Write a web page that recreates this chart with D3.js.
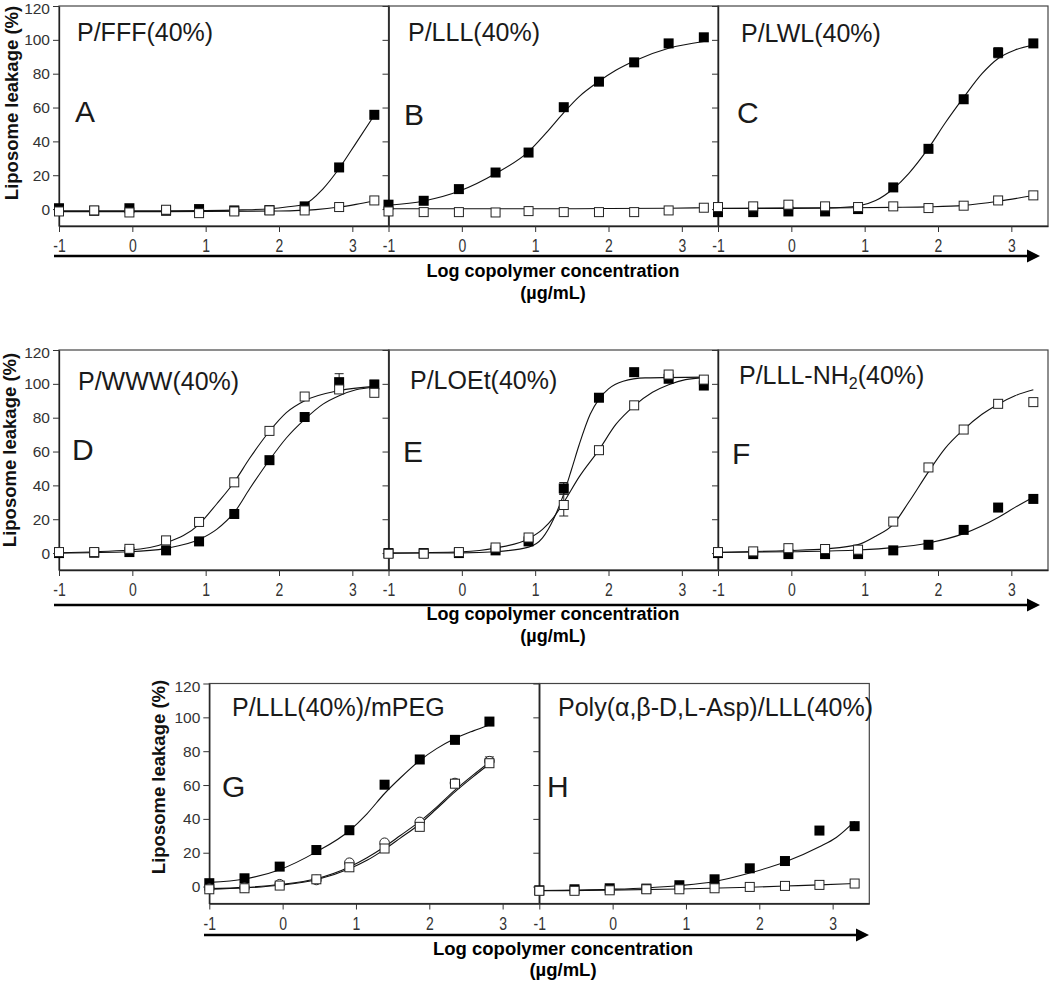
<!DOCTYPE html>
<html><head><meta charset="utf-8">
<script src="https://cdn.jsdelivr.net/npm/d3@7"></script>
<style>body{margin:0;background:#fff;} svg{display:block;font-family:"Liberation Sans",Arial,Helvetica,sans-serif;}</style>
</head><body><svg id="c" width="1050" height="981"></svg>
<script>
// ---------- data (log µg/mL vs % leakage) ----------
const xs = [-1, -0.52, -0.04, 0.46, 0.91, 1.39, 1.87, 2.35, 2.82, 3.3];
const xTicks = [-1, 0, 1, 2, 3];
const yTicks = [0, 20, 40, 60, 80, 100, 120];

const aFilled = [0.5, -1, 0.5, -1, 0, -0.8, -0.6, 1.6, 24.6, 55.7];
const aOpen   = [-1.4, -0.8, -2, -0.4, -2.4, -1.4, -0.8, -0.8, 1.2, 5.1];
const aFilledFit = [[-1,-1],[0,-1],[1,-0.9],[1.5,-0.5],[1.87,0.2],[2.1,1.2],[2.35,3],[2.6,12],[2.82,24],[3.05,39],[3.3,55.5]];
const aOpenFit   = [[-1,-1.5],[0,-1.5],[1,-1.4],[2,-1.1],[2.5,-0.3],[2.82,1.2],[3.05,2.8],[3.3,4.8]];

const bFilled = [2.6, 4.9, 11.8, 21.6, 33.4, 60.2, 75.3, 86.7, 97.9, 101.5];
const bOpen   = [-1.4, -1.8, -1.8, -2, -1.2, -1.8, -1.8, -1.8, -0.8, 0.8];
const bFilledFit = [[-1,2.3],[-0.52,4.8],[-0.04,10.5],[0.46,21],[0.91,34],[1.15,45],[1.39,57],[1.6,66.5],[1.87,75.5],[2.1,82],[2.35,87.5],[2.82,95],[3.3,99]];
const bOpenFit   = [[-1,0.2],[1,0.2],[2,0.3],[2.82,0.5],[3.3,0.8]];

const cFilled = [-1.8, -1.8, -1.4, -1.4, 0, 12.8, 35.6, 64.9, 92.4, 97.9];
const cOpen   = [1.2, 1.6, 2.6, 1.6, 1.2, 1.6, 0.6, 2, 5.1, 8.1];
const cFilledFit = [[-1,0.3],[0,0.4],[0.5,0.6],[0.91,1.8],[1.15,5],[1.39,12],[1.6,21],[1.87,36],[2.1,51],[2.35,66],[2.6,80],[2.82,89],[3.05,94],[3.3,97]];
const cOpenFit   = [[-1,0.5],[0.5,0.7],[1.39,1],[1.87,1.3],[2.35,2.2],[2.82,4.6],[3.3,8]];

const dFilled = [0, 0.2, 0.6, 1.6, 6.9, 23.1, 54.9, 80.4, 101, 99.6];
const dOpen   = [0.6, 0.6, 2.5, 7.5, 18.4, 41.8, 72.2, 92.5, 96.7, 94.7];
const dFilledFit = [[-1,0],[-0.04,0.8],[0.46,2.8],[0.91,8],[1.15,14],[1.39,24],[1.6,38],[1.87,55],[2.1,68],[2.35,79],[2.6,88],[2.82,93],[3.05,96.5],[3.3,98]];
const dOpenFit   = [[-1,0.2],[-0.04,1.8],[0.46,6],[0.91,17],[1.15,29],[1.39,42],[1.6,56],[1.87,72],[2.1,83],[2.35,90],[2.82,96],[3.3,98.5]];

const eFilled = [0, 0, 0, 1.6, 6.9, 38.2, 91.8, 106.9, 103, 99];
const eOpen   = [-0.4, -0.4, 0.6, 3.3, 9.2, 28.4, 60.8, 87.3, 105.5, 102.5];
const eFilledFit = [[-1,0],[0,0.1],[0.46,0.8],[0.91,3.5],[1.1,9],[1.25,20],[1.39,35],[1.5,50],[1.6,64],[1.75,82],[1.87,91],[2.0,97],[2.2,101.5],[2.5,103.5],[3.3,104]];
const eOpenFit   = [[-1,0],[0,0.8],[0.46,3],[0.91,8.5],[1.1,14],[1.25,21],[1.39,30],[1.6,45],[1.87,61],[2.1,76],[2.35,87],[2.6,95],[2.82,99.5],[3.05,102.5],[3.3,103.5]];

const fFilled = [0, -0.6, -0.6, -0.6, -0.6, 1.6, 4.9, 13.7, 26.9, 32];
const fOpen   = [0.6, 1, 2.9, 2.4, 2, 18.6, 50.6, 73, 88.2, 89.2];
const fFilledFit = [[-1,0.3],[0,0.8],[0.91,1.8],[1.39,3.2],[1.87,6],[2.35,11.5],[2.82,21],[3.05,27],[3.3,33]];
const fOpenFit   = [[-1,0.5],[-0.04,1.5],[0.46,2.5],[0.91,5],[1.15,10],[1.39,17],[1.6,30],[1.87,48],[2.1,62],[2.35,73],[2.6,82],[2.82,88],[3.05,93],[3.3,96.5]];

const gFilled = [2, 4.9, 11.8, 21.6, 33.3, 60.2, 75.1, 86.7, 97.5];
const gOpen   = [-1.6, -1, 0.6, 4.3, 11.4, 22.5, 35.3, 60.8, 72.9];
const gCircle = [-1.2, -0.6, 1.4, 3.9, 14.1, 25.9, 38.2, 61.2, 74.1];
const gFilledFit = [[-1,2.5],[-0.52,4.5],[-0.04,10],[0.46,20.5],[0.91,33],[1.15,43],[1.39,55],[1.6,64],[1.87,74.5],[2.1,81.5],[2.35,87.5],[2.6,92],[2.82,95.5]];
const gOpenFit   = [[-1,-1.5],[-0.52,-0.8],[-0.04,0.8],[0.46,4],[0.91,10.5],[1.15,15.5],[1.39,22],[1.6,28.5],[1.87,37],[2.1,46],[2.35,56],[2.6,65],[2.82,72.5]];
const gCircleFit = [[-1,-1.2],[-0.52,-0.5],[-0.04,1.2],[0.46,4.6],[0.91,11.5],[1.15,17],[1.39,23.5],[1.6,30],[1.87,38.5],[2.1,47],[2.35,57],[2.6,66],[2.82,73.5]];

const hFilled = [-2.2, -1.6, -1, -1.2, 0.8, 4.3, 10.8, 15.1, 33.1, 35.7];
const hOpen   = [-2.5, -2.5, -2.2, -1.6, -1.6, -1, -0.2, 0.4, 1, 1.8];
const hFilledFit = [[-1,-2.3],[-0.04,-1.6],[0.46,-0.8],[0.91,0.6],[1.39,3],[1.87,8],[2.35,14.5],[2.82,23.5],[3.05,29],[3.3,38.5]];
const hOpenFit   = [[-1,-2.5],[-0.04,-2.1],[0.91,-1.4],[1.87,-0.4],[2.35,0.3],[2.82,1.0],[3.3,1.8]];

// error bars: panel, series, x, y, error
const errPanel = ['C','D','D','E','E','G'];
const errSeries = ['filled','filled','filled','filled','open','circle'];
const errX = [2.82, 2.82, 3.3, 1.39, 1.39, 2.82];
const errY = [92.4, 101, 99.6, 38.2, 28.4, 74.1];
const errE = [3, 5, 2.5, 3.5, 6.5, 2.5];

// ---------- layout ----------
const W = 330, H = 220;
const panels = [
  {id:'A', title:'P/FFF(40%)', left:59, top:6, filled:aFilled, open:aOpen, ff:aFilledFit, of:aOpenFit, ylab:true, tx:77, ty:35, lx:75, ly:116},
  {id:'B', title:'P/LLL(40%)', left:388.5, top:6, filled:bFilled, open:bOpen, ff:bFilledFit, of:bOpenFit, tx:408, ty:35, lx:404, ly:119},
  {id:'C', title:'P/LWL(40%)', left:718, top:6, filled:cFilled, open:cOpen, ff:cFilledFit, of:cOpenFit, tx:741, ty:36, lx:737, ly:117},
  {id:'D', title:'P/WWW(40%)', left:59, top:350, filled:dFilled, open:dOpen, ff:dFilledFit, of:dOpenFit, ylab:true, tx:78, ty:40, lx:72, ly:110},
  {id:'E', title:'P/LOEt(40%)', left:388.5, top:350, filled:eFilled, open:eOpen, ff:eFilledFit, of:eOpenFit, tx:410, ty:39, lx:403, ly:112},
  {id:'F', title:'P/LLL-NH', sub:'2', rest:'(40%)', left:718, top:350, filled:fFilled, open:fOpen, ff:fFilledFit, of:fOpenFit, tx:739, ty:34, lx:732, ly:114},
  {id:'G', title:'P/LLL(40%)/mPEG', left:209.3, top:683.5, filled:gFilled, open:gOpen, circle:gCircle, ff:gFilledFit, of:gOpenFit, cf:gCircleFit, ylab:true, tx:232, ty:32, lx:222, ly:113},
  {id:'H', title:'Poly(α,β-D,L-Asp)/LLL(40%)', left:539.3, top:683.5, filled:hFilled, open:hOpen, ff:hFilledFit, of:hOpenFit, tx:558, ty:32, lx:547, ly:113}
];
const rows = [
  {ytx:18, yty:103, ax1:54, ax2:1040, ay:256, lcx:553, lb:277, sb:299, fs:18},
  {ytx:16, yty:450, ax1:54, ax2:1040, ay:605, lcx:553, lb:620, sb:642, fs:18},
  {ytx:165, yty:777, ax1:204, ax2:869, ay:935, lcx:563, lb:955, sb:976, fs:18.5}
];

const svg = d3.select('#c');
const line = d3.line().curve(d3.curveMonotoneX);

panels.forEach(p => {
  const x = d3.scaleLinear().domain([-1, 3.5]).range([p.left, p.left + W]);
  const y = d3.scaleLinear().domain([-10, 120]).range([p.top + H, p.top]);
  const g = svg.append('g');

  // box
  g.append('rect').attr('x', p.left).attr('y', p.top).attr('width', W).attr('height', H)
    .attr('fill', 'none').attr('stroke', '#444').attr('stroke-width', 1.2);

  // axes
  const ya = d3.axisLeft(y).tickValues(yTicks).tickSize(6).tickPadding(3).tickSizeOuter(0);
  if (!p.ylab) ya.tickFormat('');
  const yg = g.append('g').attr('transform', `translate(${p.left},0)`).call(ya);
  yg.select('.domain').attr('stroke', '#222').attr('stroke-width', 1.3);
  yg.selectAll('.tick line').attr('stroke', '#333');
  yg.selectAll('text').attr('font-size', 15.5).attr('fill', '#333').attr('font-family', '"Liberation Sans",Arial,sans-serif')
    .attr('dy', (d) => d === 120 ? '0.5em' : '0.32em');

  const xa = d3.axisBottom(x).tickValues(xTicks).tickSize(6).tickPadding(8).tickSizeOuter(0).tickFormat(d3.format('d'));
  const xg = g.append('g').attr('transform', `translate(0,${p.top + H})`).call(xa);
  xg.select('.domain').attr('stroke', '#222').attr('stroke-width', 1.3);
  xg.selectAll('.tick line').attr('stroke', '#333');
  xg.selectAll('text').attr('font-size', 17.5).attr('fill', '#333').attr('transform', 'scale(0.8,1)')
    .attr('font-family', '"Liberation Sans",Arial,sans-serif')
    .text(d => d < 0 ? '-' + Math.abs(d) : d);

  // fitted curves
  const drawFit = pts => g.append('path').attr('d', line(pts.map(d => [x(d[0]), y(d[1])])))
    .attr('fill', 'none').attr('stroke', '#111').attr('stroke-width', 1.1);
  drawFit(p.ff); drawFit(p.of); if (p.cf) drawFit(p.cf);

  // error bars
  errPanel.forEach((pid, i) => {
    if (pid !== p.id) return;
    const cx = x(errX[i]), y1 = y(errY[i] + errE[i]), y2 = y(errY[i] - errE[i]);
    g.append('line').attr('x1', cx).attr('x2', cx).attr('y1', y1).attr('y2', y2).attr('stroke', '#222').attr('stroke-width', 1);
    [y1, y2].forEach(yy => g.append('line').attr('x1', cx - 4.5).attr('x2', cx + 4.5).attr('y1', yy).attr('y2', yy).attr('stroke', '#222').attr('stroke-width', 1));
  });

  // markers
  const s = 10;
  g.selectAll('.fm').data(p.filled).join('rect')
    .attr('x', (d, i) => x(xs[i]) - s / 2).attr('y', d => y(d) - s / 2)
    .attr('width', s).attr('height', s).attr('fill', '#000');
  if (p.circle) {
    g.selectAll('.cm').data(p.circle).join('circle')
      .attr('cx', (d, i) => x(xs[i])).attr('cy', d => y(d)).attr('r', 4.8)
      .attr('fill', '#fff').attr('stroke', '#222').attr('stroke-width', 1);
  }
  g.selectAll('.om').data(p.open).join('rect')
    .attr('x', (d, i) => x(xs[i]) - s / 2 + 0.5).attr('y', d => y(d) - s / 2 + 0.5)
    .attr('width', s - 1).attr('height', s - 1).attr('fill', '#fff').attr('stroke', '#222').attr('stroke-width', 1);

  // panel title + letter
  const t = g.append('text').attr('x', p.tx).attr('y', p.top + p.ty).attr('font-size', 25).attr('fill', '#1a1a1a').text(p.title);
  if (p.sub) {
    t.append('tspan').attr('font-size', 16).attr('dy', 5).text(p.sub);
    t.append('tspan').attr('font-size', 25).attr('dy', -5).text(p.rest);
  }
  g.append('text').attr('x', p.lx).attr('y', p.top + p.ly).attr('font-size', 30).attr('fill', '#1a1a1a').text(p.id);
});

rows.forEach(r => {
  svg.append('text').attr('transform', `translate(${r.ytx},${r.yty}) rotate(-90)`)
    .attr('text-anchor', 'middle').attr('font-weight', 'bold').attr('font-size', 18.5).attr('fill', '#111')
    .text('Liposome leakage (%)');
  svg.append('line').attr('x1', r.ax1).attr('x2', r.ax2 - 10).attr('y1', r.ay).attr('y2', r.ay)
    .attr('stroke', '#000').attr('stroke-width', 2.5);
  svg.append('path').attr('d', `M${r.ax2},${r.ay} L${r.ax2 - 13},${r.ay - 6.5} L${r.ax2 - 13},${r.ay + 6.5} Z`).attr('fill', '#000');
  svg.append('text').attr('x', r.lcx).attr('y', r.lb).attr('text-anchor', 'middle').attr('font-weight', 'bold')
    .attr('font-size', r.fs).attr('fill', '#000').text('Log copolymer concentration');
  svg.append('text').attr('x', r.lcx).attr('y', r.sb).attr('text-anchor', 'middle').attr('font-weight', 'bold')
    .attr('font-size', r.fs).attr('fill', '#000').text('(µg/mL)');
});
</script></body></html>
